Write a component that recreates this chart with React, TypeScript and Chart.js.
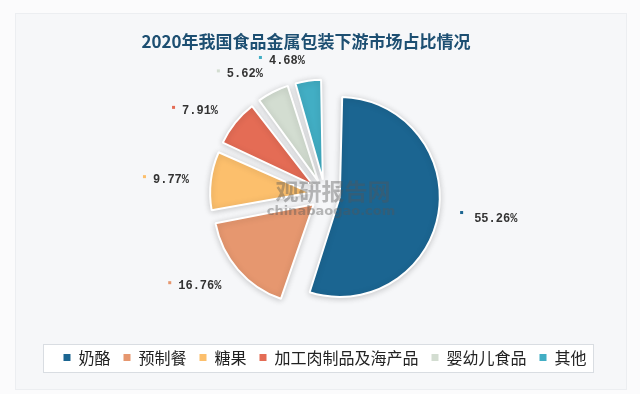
import React, { useEffect, useRef } from "react";
import { Chart, registerables } from "chart.js";

Chart.register(...registerables);

const categories = ["奶酪", "预制餐", "糖果", "加工肉制品及海产品", "婴幼儿食品", "其他"];
const shares = [55.26, 16.76, 9.77, 7.91, 5.62, 4.68];
const sliceColors = ["#1b6591", "#e6976f", "#fcbf6c", "#e46c55", "#d3ddd1", "#42aec4"];
const titleText = "2020年我国食品金属包装下游市场占比情况";

const W = 640;
const H = 394;
const SLICE_SHIFT = 15; // px each slice is pulled out

export default function App() {
  const ref = useRef<HTMLCanvasElement | null>(null);

  useEffect(() => {
    document.body.style.margin = "0";
    const canvas = ref.current;
    if (!canvas) return;

    const backgroundPlugin = {
      id: "bgCard",
      beforeDraw(chart: any) {
        const ctx = chart.ctx;
        ctx.save();
        ctx.fillStyle = "#fbfbfc";
        ctx.fillRect(0, 0, W, H);
        ctx.fillStyle = "#f6f7f9";
        ctx.fillRect(15, 13, 612, 377);
        ctx.strokeStyle = "#eceef1";
        ctx.lineWidth = 1;
        ctx.strokeRect(15.5, 13.5, 611, 376);
        ctx.fillStyle = "#ffffff";
        ctx.fillRect(43, 344, 551, 29);
        ctx.strokeStyle = "#d9dde2";
        ctx.strokeRect(43.5, 344.5, 550, 28);
        ctx.fillStyle = "#1d4f72";
        ctx.font = "bold 17px 'Noto Sans CJK SC'";
        ctx.textAlign = "center";
        ctx.textBaseline = "middle";
        ctx.fillText(titleText, 306, 42);
        ctx.restore();
      },
    };

    const shadowPlugin = {
      id: "sliceShadow",
      beforeDatasetsDraw(chart: any) {
        // keep every slice at the same radius (Chart.js enlarges exploded arcs)
        const meta = chart.getDatasetMeta(0);
        const baseR = meta.controller.outerRadius;
        meta.data.forEach((el: any) => {
          const offs = (el.options.offset || 0) / 4;
          const fix = 1 - Math.sin(Math.min(Math.PI, el.circumference || 0));
          el.outerRadius = baseR - offs * fix;
        });
        const ctx = chart.ctx;
        ctx.save();
        ctx.shadowColor = "rgba(0,0,0,0.18)";
        ctx.shadowBlur = 6;
        ctx.shadowOffsetX = 0;
        ctx.shadowOffsetY = 1;
      },
      afterDatasetsDraw(chart: any) {
        chart.ctx.restore();
      },
    };

    const labelPlugin = {
      id: "outerLabels",
      afterDatasetsDraw(chart: any) {
        const ctx = chart.ctx;
        const meta = chart.getDatasetMeta(0);
        const baseR = meta.controller.outerRadius;
        ctx.save();
        // watermark
        ctx.fillStyle = "rgba(85,85,85,0.40)";
        ctx.textAlign = "center";
        ctx.textBaseline = "middle";
        ctx.font = "bold 23px 'Noto Sans CJK SC'";
        ctx.fillText("观研报告网", 333, 191);
        ctx.font = "bold 13px 'DejaVu Sans'";
        ctx.fillText("chinabaogao.com", 331, 212);

        ctx.font = "bold 12px 'Liberation Mono'";
        ctx.textBaseline = "middle";
        meta.data.forEach((el: any, i: number) => {
          const mid = (el.startAngle + el.endAngle) / 2;
          const off = (el.options.offset || 0) / 4;
          const d = off + baseR * 1.22;
          const ax = el.x + Math.cos(mid) * d;
          const ay = el.y + Math.sin(mid) * d;
          const txt = shares[i].toFixed(2) + "%";
          const tw = ctx.measureText(txt).width;
          const right = Math.cos(mid) >= 0;
          const textStart = right ? ax + 14 : ax - tw;
          ctx.fillStyle = sliceColors[i];
          ctx.fillRect(textStart - (right ? 14 : 10), ay - (right ? 6 : 3), 3, 3);
          ctx.fillStyle = "#333333";
          ctx.textAlign = "left";
          ctx.fillText(txt, textStart, ay + 2);
        });
        ctx.restore();
      },
    };

    const chart = new Chart(canvas, {
      type: "pie",
      data: {
        labels: categories,
        datasets: [
          {
            data: shares,
            backgroundColor: sliceColors,
            borderColor: "#ffffff",
            borderWidth: 2,
            offset: SLICE_SHIFT * 4,
            radius: 100,
          } as any,
        ],
      },
      options: {
        responsive: false,
        animation: false,
        layout: { padding: { top: 52.5, bottom: 18.5, left: 18, right: 8 } },
        plugins: {
          title: { display: false },
          tooltip: { enabled: false },
          legend: {
            display: true,
            position: "bottom",
            labels: {
              font: { family: "'Noto Sans CJK SC'", size: 16 },
              color: "#222222",
              boxWidth: 7,
              boxHeight: 7,
              padding: 13,
              generateLabels: (c: any) =>
                (Chart as any).overrides.pie.plugins.legend.labels
                  .generateLabels(c)
                  .map((l: any) => ({ ...l, lineWidth: 0, strokeStyle: l.fillStyle })),
            },
          },
        },
      },
      plugins: [backgroundPlugin, shadowPlugin, labelPlugin],
    });

    return () => chart.destroy();
  }, []);

  return (
    <div style={{ width: W, height: H }}>
      <canvas ref={ref} width={W} height={H} />
    </div>
  );
}
